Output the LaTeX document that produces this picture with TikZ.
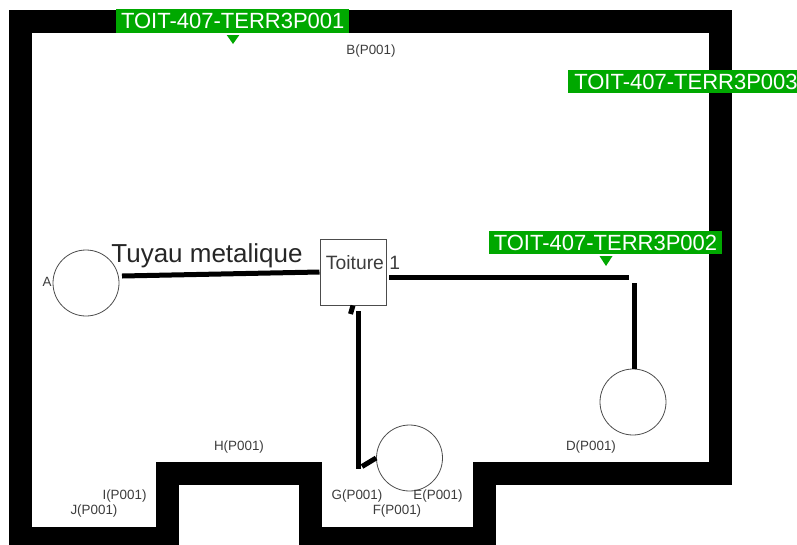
\documentclass[tikz,border=0pt]{standalone}
\usepackage{fontspec}
\setmainfont{Liberation Sans}
\usepackage{xcolor}
\usepackage{tikz}
\definecolor{taggreen}{RGB}{0,168,0}
\definecolor{labelgray}{RGB}{60,60,60}
\tikzstyle{wall}=[draw=black,line width=23pt,miter limit=10]
\tikzstyle{pipe}=[draw=black,line width=5pt]
\tikzstyle{tank}=[circle,draw=black!70,line width=0.8pt,inner sep=0pt,minimum size=66pt]
\tikzstyle{roof}=[rectangle,draw=black!70,line width=1pt,inner sep=0pt,minimum size=66pt]
\tikzstyle{tag}=[rectangle,fill=taggreen,text=white,inner sep=0pt,minimum width=233pt,minimum height=23.5pt,font=\fontsize{22}{23}\selectfont]
\tikzstyle{tagtip}=[fill=taggreen]
\tikzstyle{point}=[text=labelgray,inner sep=0pt,font=\fontsize{13.4}{14}\selectfont]

\begin{document}
\begin{tikzpicture}[x=1pt,y=-1pt]
        \useasboundingbox (0,0) rectangle (797,544);
        \clip (0,0) rectangle (797,544);

        \draw [wall] (20.75,21.5) -- (720,21.5) -- (720,473.5) -- (484,473.5) -- (484,538.5)
              -- (310.5,538.5) -- (310.5,473.5) -- (167.5,473.5) -- (167.5,538.5) -- (20.75,538.5) -- cycle;

        \node at (86,283)  [tank] (tanka) {};
        \node at (633,402) [tank] (tankd) {};
        \node at (409.5,458) [tank] (tanke) {};
        \node at (353,272) [roof] (toiture) {};

        \node at (363,263) [text=labelgray,inner sep=0pt,font=\fontsize{19.3}{20}\selectfont] (toiturename) {Toiture 1};
        \node at (207,255.5) [text=black!85,inner sep=0pt,font=\fontsize{26}{27}\selectfont] (material) {Tuyau metalique};

        \coordinate (p1) at (122,276);
        \coordinate (p2) at (389,277.5);
        \coordinate (p3) at (629,277.5);
        \coordinate (p4) at (634.5,283);
        \coordinate (p5) at (634.5,369);
        \coordinate (p6) at (350.5,314);
        \coordinate (p7) at (358.7,311);
        \coordinate (p8) at (358.7,469);
        \coordinate (p9) at (362,466.5);

        \draw [pipe] (p1) -- (toiture.west);
        \draw [pipe] (p2) -- (p3);
        \draw [pipe] (p4) -- (p5);
        \draw [pipe] (toiture.south) -- (p6);
        \draw [pipe] (p7) -- (p8);
        \draw [pipe] (p9) -- (tanke.west);

        \node at (232.75,21) [tag] (tag1) {TOIT-407-TERR3P001};
        \node at (605.5,242.5) [tag] (tag2) {TOIT-407-TERR3P002};
        \node at (686,81.5) [tag,minimum width=236pt] (tag3) {TOIT-407-TERR3P003};
        \fill [tagtip] (226.7,35) -- (239.3,35) -- (233,44) -- cycle;
        \fill [tagtip] (599.5,256) -- (612.5,256) -- (606,266) -- cycle;

        \node at (47,282)  [point] (ptA) {A};
        \node at (371,51)  [point] (ptB) {B(P001)};
        \node at (591,447) [point] (ptD) {D(P001)};
        \node at (438,496) [point] (ptE) {E(P001)};
        \node at (397,511.5) [point] (ptF) {F(P001)};
        \node at (357,496) [point] (ptG) {G(P001)};
        \node at (239,447) [point] (ptH) {H(P001)};
        \node at (124.5,496) [point] (ptI) {I(P001)};
        \node at (94,511.5)  [point] (ptJ) {J(P001)};
      \end{tikzpicture}
\end{document}
